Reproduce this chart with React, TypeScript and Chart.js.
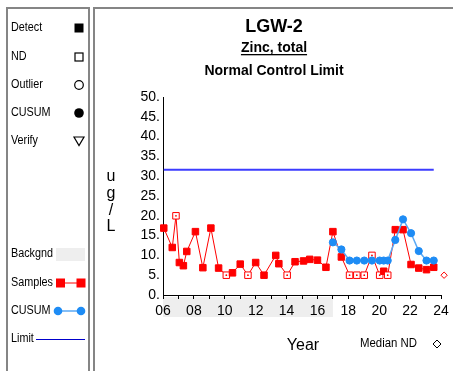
import React, { useEffect, useRef } from "react";
import { Chart, registerables } from "chart.js";

Chart.register(...registerables);

// ---- data ----
const sampleYears = [
  2006.05, 2006.6, 2006.84, 2007.06, 2007.32, 2007.54, 2008.1, 2008.58, 2009.1, 2009.6,
  2010.1, 2010.5, 2011.0, 2011.5, 2012.0, 2012.54, 2013.3, 2013.5, 2014.04, 2014.55,
  2015.1, 2015.5, 2016.0, 2016.55, 2017.0, 2017.55, 2018.08, 2018.55, 2019.03, 2019.53,
  2020.03, 2020.29, 2020.55, 2021.04, 2021.54, 2022.06, 2022.56, 2023.06, 2023.53,
];
const sampleValues = [
  16.9, 12.0, 20, 8.2, 7.4, 11.0, 16.0, 6.9, 16.9, 6.8,
  5, 5.6, 7.8, 5, 8.2, 5.0, 10.0, 7.9, 5, 8.4,
  8.6, 9.0, 8.8, 7.0, 16.0, 9.6, 5, 5, 5, 10,
  5, 6.0, 5, 16.5, 16.5, 7.7, 6.8, 6.4, 7.0,
];
const sampleND = [
  false, false, true, false, false, false, false, false, false, false,
  true, false, false, true, false, false, false, false, true, false,
  false, false, false, false, false, false, true, true, true, true,
  true, false, true, false, false, false, false, false, false,
];
const cusumYears = [
  2017.0, 2017.55, 2018.08, 2018.55, 2019.03, 2019.53, 2020.03, 2020.29, 2020.55,
  2021.04, 2021.54, 2022.06, 2022.56, 2023.06, 2023.53,
];
const cusumValues = [13.3, 11.5, 8.7, 8.7, 8.7, 8.7, 8.7, 8.7, 8.7, 13.9, 19.1, 15.6, 11.1, 8.7, 8.7];
const limitValue = 31.6;
const medianNDYear = [2024.2];
const medianNDValue = [5];
const backgroundPeriod = [2006, 2017];
const xRange = [2006, 2024];
const yRange = [0, 50];
const yStep = 5;
const titleLines = ["LGW-2", "Zinc, total", "Normal Control Limit"];
const legendSymbols = ["Detect", "ND", "Outlier", "CUSUM", "Verify"];
const legendLines = ["Backgnd", "Samples", "CUSUM", "Limit"];
const yAxisLetters = ["u", "g", "/", "L"];

const FONT = "'Liberation Sans', Arial, Helvetica, sans-serif";
const RED = "#ff0000";
const BLUE = "#1e8cf5";
const BLUE_LINE = "#5aa9f5";

function squeezeText(ctx: CanvasRenderingContext2D, t: string, x: number, y: number, sx: number) {
  ctx.save();
  ctx.translate(x, y);
  ctx.scale(sx, 1);
  ctx.fillText(t, 0, 0);
  ctx.restore();
}

const decor = {
  id: "decor",
  beforeDraw(chart: any) {
    const { ctx, chartArea } = chart;
    const xs = chart.scales.x;
    ctx.save();
    ctx.fillStyle = "#ffffff";
    ctx.fillRect(0, 0, chart.width, chart.height);
    const x1 = xs.getPixelForValue(backgroundPeriod[0]);
    const x2 = xs.getPixelForValue(backgroundPeriod[1]);
    ctx.fillStyle = "#eeeeee";
    ctx.fillRect(x1, chartArea.bottom + 2, x2 - x1, 20);
    ctx.restore();
  },
  afterDraw(chart: any) {
    const { ctx } = chart;
    ctx.save();
    // frames
    ctx.strokeStyle = "#858585";
    ctx.lineWidth = 2;
    ctx.strokeRect(7, 8, 82, 380);
    ctx.strokeRect(94, 8, 380, 380);

    // titles
    const cx = 274;
    ctx.fillStyle = "#000";
    ctx.textAlign = "center";
    ctx.textBaseline = "middle";
    ctx.font = `bold 18px ${FONT}`;
    ctx.fillText(titleLines[0], cx, 27);
    ctx.font = `bold 14px ${FONT}`;
    ctx.fillText(titleLines[1], cx, 48);
    const w = ctx.measureText(titleLines[1]).width;
    ctx.fillRect(cx - w / 2, 54, w, 1.3);
    ctx.fillText(titleLines[2], cx, 71);

    // y axis label
    ctx.font = `16px ${FONT}`;
    const ly = [177, 194, 211, 227];
    yAxisLetters.forEach((t, i) => ctx.fillText(t, 111, ly[i]));

    // x axis label
    ctx.fillText("Year", 303, 346);
    ctx.font = `12px ${FONT}`;
    ctx.textAlign = "left";
    squeezeText(ctx, "Median ND", 360, 344, 0.95);
    // diamond
    ctx.strokeStyle = "#000";
    ctx.lineWidth = 1;
    ctx.beginPath();
    ctx.moveTo(437, 340);
    ctx.lineTo(441, 344);
    ctx.lineTo(437, 348);
    ctx.lineTo(433, 344);
    ctx.closePath();
    ctx.stroke();

    // left legend
    ctx.font = `12px ${FONT}`;
    ctx.textAlign = "left";
    const sy = [28, 57, 85, 113, 141];
    legendSymbols.forEach((t, i) => squeezeText(ctx, t, 11, sy[i], 0.9));
    const mx = 79;
    ctx.fillStyle = "#000";
    ctx.fillRect(mx - 4.5, sy[0] - 4.5, 9, 9);
    ctx.lineWidth = 1.2;
    ctx.strokeRect(mx - 4, sy[1] - 4, 8, 8);
    ctx.beginPath();
    ctx.arc(mx, sy[2], 4.3, 0, Math.PI * 2);
    ctx.stroke();
    ctx.beginPath();
    ctx.arc(mx, sy[3], 4.8, 0, Math.PI * 2);
    ctx.fill();
    ctx.beginPath();
    ctx.moveTo(mx - 5, sy[4] - 4);
    ctx.lineTo(mx + 5, sy[4] - 4);
    ctx.lineTo(mx, sy[4] + 4.5);
    ctx.closePath();
    ctx.stroke();

    const ly2 = [254, 283, 311, 339];
    ctx.fillStyle = "#000";
    legendLines.forEach((t, i) => squeezeText(ctx, t, 11, ly2[i], 0.9));
    ctx.fillStyle = "#eeeeee";
    ctx.fillRect(56, 248, 29, 13);
    // samples
    ctx.strokeStyle = RED;
    ctx.lineWidth = 1;
    ctx.beginPath();
    ctx.moveTo(60, ly2[1]);
    ctx.lineTo(81, ly2[1]);
    ctx.stroke();
    ctx.fillStyle = RED;
    ctx.fillRect(56, ly2[1] - 4.5, 9, 9);
    ctx.fillRect(76.5, ly2[1] - 4.5, 9, 9);
    // cusum
    ctx.strokeStyle = BLUE_LINE;
    ctx.lineWidth = 1.5;
    ctx.beginPath();
    ctx.moveTo(58, ly2[2]);
    ctx.lineTo(81, ly2[2]);
    ctx.stroke();
    ctx.fillStyle = BLUE;
    ctx.beginPath();
    ctx.arc(58, ly2[2], 4.3, 0, Math.PI * 2);
    ctx.fill();
    ctx.beginPath();
    ctx.arc(81, ly2[2], 4.3, 0, Math.PI * 2);
    ctx.fill();
    // limit
    ctx.strokeStyle = "#0000cc";
    ctx.lineWidth = 1;
    ctx.beginPath();
    ctx.moveTo(36, ly2[3] + 0.5);
    ctx.lineTo(85, ly2[3] + 0.5);
    ctx.stroke();
    ctx.restore();
  },
};

export default function App() {
  const ref = useRef<HTMLCanvasElement>(null);
  useEffect(() => {
    document.body.style.margin = "0";
    const samples = sampleYears.map((x, i) => ({ x, y: sampleValues[i] }));
    const ndDots = samples.filter((_, i) => sampleND[i]);
    const cusum = cusumYears.map((x, i) => ({ x, y: cusumValues[i] }));
    const limit = [
      { x: sampleYears[0], y: limitValue },
      { x: sampleYears[sampleYears.length - 1], y: limitValue },
    ];
    const median = medianNDYear.map((x, i) => ({ x, y: medianNDValue[i] }));
    const chart = new Chart(ref.current as HTMLCanvasElement, {
      type: "line",
      data: {
        datasets: [
          {
            data: cusum,
            borderColor: BLUE_LINE,
            borderWidth: 1.5,
            pointRadius: 3.6,
            pointBackgroundColor: BLUE,
            pointBorderColor: BLUE,
            pointBorderWidth: 1,
            clip: false,
          },
          {
            data: ndDots,
            showLine: false,
            pointRadius: 0.9,
            pointBackgroundColor: RED,
            pointBorderColor: RED,
            pointBorderWidth: 0,
            clip: false,
          },
          {
            data: samples,
            borderColor: RED,
            borderWidth: 1,
            pointStyle: "rect",
            pointRadius: 4.6,
            pointBackgroundColor: sampleND.map((nd) => (nd ? "#ffffff" : RED)),
            pointBorderColor: RED,
            pointBorderWidth: 1,
            clip: false,
          },
          {
            data: limit,
            borderColor: "#3c3cff",
            borderWidth: 2,
            pointRadius: 0,
          },
          {
            data: median,
            showLine: false,
            pointStyle: "rectRot",
            pointRadius: 3.2,
            pointBackgroundColor: "#ffffff",
            pointBorderColor: RED,
            pointBorderWidth: 1,
            clip: false,
          },
        ],
      },
      options: {
        animation: false,
        responsive: false,
        devicePixelRatio: 1,
        layout: { padding: { left: 103, right: 12, top: 97, bottom: 46 } },
        plugins: { legend: { display: false }, tooltip: { enabled: false } },
        elements: { line: { tension: 0 } },
        scales: {
          x: {
            type: "linear",
            min: xRange[0],
            max: xRange[1],
            afterFit: (s: any) => {
              s.height = 30;
              s.paddingLeft = 0;
              s.paddingRight = 0;
            },
            ticks: {
              stepSize: 1,
              autoSkip: false,
              maxRotation: 0,
              padding: 4,
              color: "#000",
              font: { family: FONT, size: 14 },
              callback: (v: any) => (Math.round(v) % 2 === 0 ? String(Math.round(v)).slice(2) : ""),
            },
            grid: { drawOnChartArea: false, drawTicks: true, tickLength: 4, color: "#000" },
            border: { color: "#000", width: 1 },
          },
          y: {
            min: yRange[0],
            max: yRange[1],
            afterFit: (s: any) => {
              s.width = 60;
            },
            ticks: {
              stepSize: yStep,
              padding: 3,
              color: "#000",
              font: { family: FONT, size: 14 },
              callback: (v: any) => `${v}.`,
            },
            grid: { drawOnChartArea: false, drawTicks: false },
            border: { color: "#000", width: 1 },
          },
        },
      },
      plugins: [decor],
    } as any);
    return () => chart.destroy();
  }, []);
  return (
    <div style={{ position: "absolute", left: 0, top: 0, width: 453, height: 371 }}>
      <canvas ref={ref} width={453} height={371} style={{ display: "block" }} />
    </div>
  );
}
